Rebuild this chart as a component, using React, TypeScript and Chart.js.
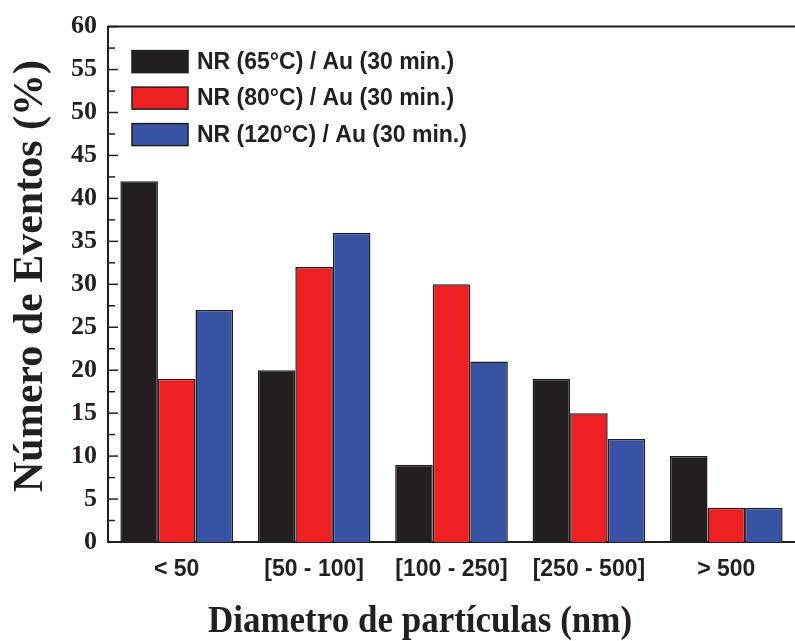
import React, { useEffect, useRef } from "react";
import { Chart, registerables } from "chart.js";

Chart.register(...registerables);

// ---- data ----
const categories = ["< 50", "[50 - 100]", "[100 - 250]", "[250 - 500]", "> 500"];
const seriesLabels = [
  "NR (65°C) / Au (30 min.)",
  "NR (80°C) / Au (30 min.)",
  "NR (120°C) / Au (30 min.)",
];
const nr65 = [42, 20, 9, 19, 10];
const nr80 = [19, 32, 30, 15, 4];
const nr120 = [27, 36, 21, 12, 4];
const yMin = 0;
const yMax = 60;
const yStep = 5;
const yMinorStep = 2.5;
const xTitle = "Diametro de partículas (nm)";
const yTitle = "Número de Eventos (%)";

// ---- styles ----
const INK = "#231f20";
const COLORS = ["#231f20", "#ed2024", "#3953a4"];
const SANS = '"Liberation Sans", Arial, sans-serif';
const SERIF = '"Liberation Serif", "Times New Roman", serif';

const decorPlugin = {
  id: "decor",
  afterDraw(chart: any) {
    const { ctx, chartArea: ca } = chart;
    const y = chart.scales.y;
    ctx.save();
    // top frame line
    ctx.strokeStyle = INK;
    ctx.lineWidth = 2;
    ctx.beginPath();
    ctx.moveTo(ca.left, ca.top);
    ctx.lineTo(chart.width, ca.top);
    ctx.stroke();

    // inward ticks on the y axis
    ctx.lineWidth = 1.5;
    for (let v = yMin; v <= yMax + 1e-9; v += yMinorStep) {
      const py = y.getPixelForValue(v);
      const len = Math.abs(v % yStep) < 1e-9 ? 10 : 7;
      ctx.beginPath();
      ctx.moveTo(ca.left, py);
      ctx.lineTo(ca.left + len, py);
      ctx.stroke();
    }

    // legend inside the plot
    const ds = chart.data.datasets;
    ctx.font = `bold 23px ${SANS}`;
    ctx.textAlign = "left";
    ctx.textBaseline = "middle";
    for (let i = 0; i < ds.length; i++) {
      const bx = ca.left + 24;
      const by = ca.top + 24 + i * 36.5;
      ctx.fillStyle = ds[i].backgroundColor;
      ctx.fillRect(bx, by, 56, 22);
      ctx.lineWidth = 1.5;
      ctx.strokeStyle = INK;
      ctx.strokeRect(bx, by, 56, 22);
      ctx.fillStyle = INK;
      ctx.fillText(ds[i].label, bx + 65, by + 12);
    }

    // axis titles
    ctx.fillStyle = INK;
    ctx.save();
    ctx.translate(420, 632);
    ctx.scale(1, 1.08);
    ctx.font = `bold 35px ${SERIF}`;
    ctx.textAlign = "center";
    ctx.textBaseline = "alphabetic";
    ctx.fillText(xTitle, 0, 0);
    ctx.restore();

    ctx.save();
    ctx.translate(42, 276);
    ctx.rotate(-Math.PI / 2);
    ctx.font = `bold 42px ${SERIF}`;
    ctx.textAlign = "center";
    ctx.textBaseline = "alphabetic";
    ctx.fillText(yTitle, 0, 0);
    ctx.restore();

    ctx.restore();
  },
};

export default function App() {
  const ref = useRef<HTMLCanvasElement | null>(null);

  useEffect(() => {
    if (!ref.current) return;
    const series = [nr65, nr80, nr120];
    const chart = new Chart(ref.current, {
      type: "bar",
      data: {
        labels: categories,
        datasets: series.map((d, i) => ({
          label: seriesLabels[i],
          data: d,
          backgroundColor: COLORS[i],
          borderColor: INK,
          borderWidth: 1.5,
          categoryPercentage: 0.82,
          barPercentage: 1.0,
        })),
      },
      options: {
        responsive: false,
        animation: false,
        layout: { padding: { left: 0, top: 25, right: 0, bottom: 0 } },
        plugins: {
          legend: { display: false },
          tooltip: { enabled: false },
          title: { display: false },
        },
        scales: {
          x: {
            type: "category",
            offset: true,
            z: 1,
            grid: { display: false, drawTicks: false },
            border: { display: true, color: INK, width: 2 },
            ticks: {
              color: INK,
              padding: 14,
              maxRotation: 0,
              autoSkip: false,
              font: { family: SANS, weight: "bold", size: 23 },
            },
            afterFit: (s: any) => {
              s.height = 99;
            },
          },
          y: {
            min: yMin,
            max: yMax,
            z: 1,
            grid: { display: false, drawTicks: false },
            border: { display: true, color: INK, width: 2 },
            ticks: {
              stepSize: yStep,
              color: INK,
              padding: 11,
              font: { family: SERIF, weight: "bold", size: 26 },
            },
            afterFit: (s: any) => {
              s.width = 108;
            },
          },
        },
      },
      plugins: [decorPlugin],
    });
    return () => chart.destroy();
  }, []);

  return (
    <div style={{ position: "absolute", left: 0, top: 0, width: 795, height: 641, background: "#fff" }}>
      <canvas ref={ref} width={795} height={641} style={{ display: "block" }} />
    </div>
  );
}
